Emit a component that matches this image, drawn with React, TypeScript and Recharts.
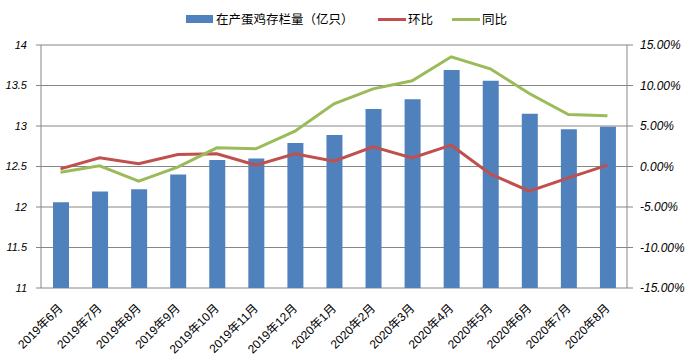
import React from 'react';
import { ComposedChart, Bar, Line, XAxis, YAxis, CartesianGrid, Legend } from 'recharts';

const months = ['2019年6月', '2019年7月', '2019年8月', '2019年9月', '2019年10月', '2019年11月', '2019年12月', '2020年1月', '2020年2月', '2020年3月', '2020年4月', '2020年5月', '2020年6月', '2020年7月', '2020年8月'];
const stock = [12.06, 12.19, 12.22, 12.4, 12.58, 12.6, 12.79, 12.89, 13.21, 13.33, 13.69, 13.56, 13.15, 12.96, 12.99];
const mom = [-0.29, 1.07, 0.33, 1.48, 1.56, 0.17, 1.56, 0.66, 2.43, 1.07, 2.63, -0.91, -3.05, -1.4, 0.17];
const yoy = [-0.7, 0.08, -1.81, -0.08, 2.3, 2.18, 4.36, 7.74, 9.59, 10.58, 13.54, 12.06, 9.01, 6.42, 6.26];
const leftTicks = [11, 11.5, 12, 12.5, 13, 13.5, 14];
const rightTicks = [-15, -10, -5, 0, 5, 10, 15];
const boundaryTicks = [0, 1, 2, 3, 4, 5, 6, 7, 8, 9, 10, 11, 12, 13, 14, 15];

const seriesNames = { stock: '在产蛋鸡存栏量（亿只）', mom: '环比', yoy: '同比' };

const data = months.map((m, i) => ({ month: m, idx: i + 0.5, stock: stock[i], mom: mom[i], yoy: yoy[i] }));

const BLUE = '#4F81BD';
const RED = '#C0504D';
const GREEN = '#9BBB59';
const GRID = '#868686';

const XTick = (props: any) => {
  const { x, y, payload } = props;
  const ax = x + 3;
  const ay = y + 21;
  return (
    <text x={ax} y={ay} transform={`rotate(-45 ${ax} ${ay})`} textAnchor="end" fontSize={12} fontFamily="'Liberation Sans', 'Noto Sans CJK SC', sans-serif" fill="#000">
      {payload.value}
    </text>
  );
};

const LegendContent = () => {
  const font = "'Noto Sans CJK SC', sans-serif";
  return (
    <div style={{ position: 'relative', width: 691, height: 30, fontFamily: font, fontSize: 12.5, color: '#000' }}>
      <div style={{ position: 'absolute', left: 186, top: 15, width: 27, height: 8, background: BLUE }} />
      <div style={{ position: 'absolute', left: 216, top: 10, lineHeight: '18px', whiteSpace: 'nowrap' }}>{seriesNames.stock}</div>
      <div style={{ position: 'absolute', left: 378, top: 18, width: 28, height: 3, background: RED }} />
      <div style={{ position: 'absolute', left: 408, top: 10, lineHeight: '18px', whiteSpace: 'nowrap' }}>{seriesNames.mom}</div>
      <div style={{ position: 'absolute', left: 452, top: 18, width: 28, height: 3, background: GREEN }} />
      <div style={{ position: 'absolute', left: 482, top: 10, lineHeight: '18px', whiteSpace: 'nowrap' }}>{seriesNames.yoy}</div>
    </div>
  );
};

export default function App() {
  const tickFont = { fontSize: 11, fontStyle: 'italic', fontFamily: "'Liberation Sans', sans-serif", fill: '#000' } as any;
  return (
    <div style={{ position: 'absolute', left: 0, top: 0, width: 691, height: 362, background: '#fff' }}>
      <ComposedChart width={691} height={362} data={data} margin={{ top: 45, right: 0, bottom: 0, left: 0 }}>
        <CartesianGrid xAxisId="cat" yAxisId="left" vertical={false} stroke={GRID} strokeWidth={1} />
        <XAxis xAxisId="grid" dataKey="idx" type="number" domain={[0, 15]} ticks={boundaryTicks} allowDataOverflow height={0} tick={false} tickSize={5} tickLine={{ stroke: GRID }} axisLine={{ stroke: GRID }} interval={0} />
        <XAxis xAxisId="cat" dataKey="month" height={74} interval={0} tickLine={false} axisLine={false} tickSize={0} tickMargin={0} tick={<XTick />} />
        <YAxis yAxisId="left" orientation="left" width={41} domain={[11, 14]} ticks={leftTicks} interval={0} tickSize={5} tickMargin={9} tickLine={{ stroke: GRID }} axisLine={{ stroke: GRID }} tick={tickFont} tickFormatter={(v: number) => String(v)} />
        <YAxis yAxisId="right" orientation="right" width={64} domain={[-15, 15]} ticks={rightTicks} interval={0} tickSize={6} tickMargin={7} tickLine={{ stroke: GRID }} axisLine={{ stroke: GRID }} tick={{ ...tickFont, fontSize: 12 }} tickFormatter={(v: number) => v.toFixed(2) + '%'} />
        <Legend verticalAlign="middle" layout="horizontal" wrapperStyle={{ position: 'absolute', top: 0, left: 0, width: 691 }} content={<LegendContent />} />
        <Bar xAxisId="cat" yAxisId="left" dataKey="stock" name={seriesNames.stock} fill={BLUE} barSize={16} isAnimationActive={false} />
        <Line xAxisId="cat" yAxisId="right" dataKey="mom" name={seriesNames.mom} stroke={RED} strokeWidth={3} dot={false} type="linear" isAnimationActive={false} />
        <Line xAxisId="cat" yAxisId="right" dataKey="yoy" name={seriesNames.yoy} stroke={GREEN} strokeWidth={3} dot={false} type="linear" isAnimationActive={false} />
      </ComposedChart>
    </div>
  );
}
